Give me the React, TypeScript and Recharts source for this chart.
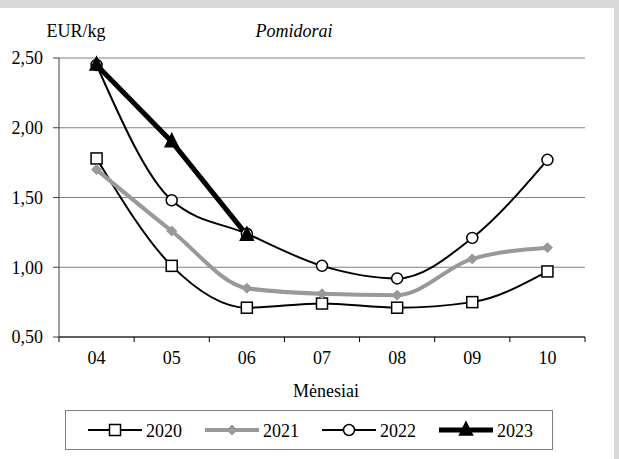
import React from "react";
import { LineChart, Line, XAxis, YAxis, CartesianGrid, Legend } from "recharts";

const MONTHS = ["04", "05", "06", "07", "08", "09", "10"];
const Y2020 = [1.78, 1.01, 0.71, 0.74, 0.71, 0.75, 0.97];
const Y2021 = [1.7, 1.26, 0.85, 0.81, 0.8, 1.06, 1.14];
const Y2022 = [2.45, 1.48, 1.24, 1.01, 0.92, 1.21, 1.77];
const Y2023 = [2.45, 1.9, 1.23, null, null, null, null];
const Y_TICKS = [0.5, 1, 1.5, 2, 2.5];

const W = 619;
const H = 459;
const FONT = "Liberation Serif, DejaVu Serif, Times New Roman, serif";

// plot box
const M = { top: 58, right: 34, left: 0, bottom: 0 };
const Y_AXIS_W = 59;
const PLOT_W = W - M.right - Y_AXIS_W;
const HALF = PLOT_W / MONTHS.length / 2;

const data = MONTHS.map((m, i) => ({
  month: m,
  y2020: Y2020[i],
  y2021: Y2021[i],
  y2022: Y2022[i],
  y2023: Y2023[i],
}));

type Marker = "square" | "diamond" | "circle" | "triangle";

const STYLES: Record<string, { color: string; width: number; marker: Marker; fill: string }> = {
  y2020: { color: "#000", width: 2, marker: "square", fill: "#fff" },
  y2021: { color: "#999", width: 4, marker: "diamond", fill: "#999" },
  y2022: { color: "#000", width: 2, marker: "circle", fill: "#fff" },
  y2023: { color: "#000", width: 5, marker: "triangle", fill: "#000" },
};

function drawMarker(kind: Marker, cx: number, cy: number, fill: string, key?: string) {
  if (kind === "square") {
    return <rect key={key} x={cx - 5.5} y={cy - 5.5} width={11} height={11} fill={fill} stroke="#000" strokeWidth={1.5} />;
  }
  if (kind === "diamond") {
    return <path key={key} d={`M${cx},${cy - 5} L${cx + 5},${cy} L${cx},${cy + 5} L${cx - 5},${cy} Z`} fill={fill} stroke={fill} />;
  }
  if (kind === "circle") {
    return <circle key={key} cx={cx} cy={cy} r={5.5} fill={fill} stroke="#000" strokeWidth={1.5} />;
  }
  return <path key={key} d={`M${cx},${cy - 8} L${cx + 6.5},${cy + 5} L${cx - 6.5},${cy + 5} Z`} fill={fill} stroke="#000" strokeWidth={1.5} />;
}

const makeDot = (dataKey: string) => (props: any) => {
  const { cx, cy, index, value } = props;
  const key = `${dataKey}-${index}`;
  if (value == null || cx == null || cy == null) return <g key={key} />;
  const s = STYLES[dataKey];
  return drawMarker(s.marker, cx, cy, s.fill, key);
};

function MonthTick(props: any) {
  const { x, y, payload, index } = props;
  const last = index === MONTHS.length - 1;
  return (
    <g>
      <line x1={x - HALF} y1={y} x2={x - HALF} y2={y + 5} stroke="#000" />
      {last && <line x1={x + HALF} y1={y} x2={x + HALF} y2={y + 5} stroke="#000" />}
      <text x={x} y={y + 27} textAnchor="middle" fontSize={18} style={{ fontFamily: FONT }} fill="#000">
        {payload.value}
      </text>
    </g>
  );
}

function LegendBox(props: any) {
  const items = props.payload || [];
  return (
    <div style={{ width: 488, height: 40, border: "1px solid #808080", boxSizing: "border-box", background: "#fff" }}>
      <svg width={486} height={38}>
        {items.map((it: any, i: number) => {
          const s = STYLES[it.dataKey];
          const x0 = 22 + i * 117;
          return (
            <g key={it.dataKey}>
              <line x1={x0} y1={19} x2={x0 + 54} y2={19} stroke={s.color} strokeWidth={s.width} />
              {drawMarker(s.marker, x0 + 27, 19, s.fill)}
              <text x={x0 + 58} y={26} fontSize={18} style={{ fontFamily: FONT }} fill="#000">
                {it.value}
              </text>
            </g>
          );
        })}
      </svg>
    </div>
  );
}

export default function App() {
  const fmt = (v: number) => v.toFixed(2).replace(".", ",");
  return (
    <div style={{ position: "absolute", left: 0, top: 0, width: W, height: H, background: "#fff", overflow: "hidden", fontFamily: FONT }}>
      <LineChart width={W} height={H} data={data} margin={M} style={{ fontFamily: FONT }}>
        <CartesianGrid horizontal vertical={false} stroke="#808080" />
        <XAxis
          dataKey="month"
          height={H - 337}
          padding={{ left: HALF, right: HALF }}
          axisLine={{ stroke: "#000" }}
          tickLine={false}
          tickSize={0}
          tickMargin={0}
          interval={0}
          tick={<MonthTick />}
        />
        <YAxis
          width={Y_AXIS_W}
          domain={[0.5, 2.5]}
          ticks={Y_TICKS}
          interval={0}
          tickFormatter={fmt}
          axisLine={{ stroke: "#404040" }}
          tickLine={{ stroke: "#404040" }}
          tickSize={6}
          tickMargin={10}
          tick={{ fill: "#000", fontSize: 18, style: { fontFamily: FONT } }}
        />
        <YAxis yAxisId="frame" orientation="right" width={0} domain={[0.5, 2.5]} tick={false} tickLine={false} axisLine={{ stroke: "#808080" }} />
        <Legend
          layout="horizontal"
          verticalAlign="middle"
          align="center"
          wrapperStyle={{ left: 65, top: 410, width: 488, height: 40 }}
          content={<LegendBox />}
        />
        <Line dataKey="y2020" name="2020" type="monotone" stroke="#000" strokeWidth={2} dot={makeDot("y2020")} activeDot={false} isAnimationActive={false} />
        <Line dataKey="y2021" name="2021" type="monotone" stroke="#999" strokeWidth={4} dot={makeDot("y2021")} activeDot={false} isAnimationActive={false} />
        <Line dataKey="y2022" name="2022" type="monotone" stroke="#000" strokeWidth={2} dot={makeDot("y2022")} activeDot={false} isAnimationActive={false} />
        <Line dataKey="y2023" name="2023" type="linear" stroke="#000" strokeWidth={5} dot={makeDot("y2023")} activeDot={false} isAnimationActive={false} />
      </LineChart>
      <svg width={W} height={H} style={{ position: "absolute", left: 0, top: 0, pointerEvents: "none", fontFamily: FONT }}>
        <rect x={0} y={0} width={W} height={8} fill="#d9d9d9" />
        <rect x={614} y={0} width={5} height={H} fill="#d9d9d9" />
        <text x={76} y={37} textAnchor="middle" fontSize={18}>EUR/kg</text>
        <text x={294} y={37} textAnchor="middle" fontSize={18} fontStyle="italic">Pomidorai</text>
        <text x={326} y={397} textAnchor="middle" fontSize={18}>Mėnesiai</text>
      </svg>
    </div>
  );
}
